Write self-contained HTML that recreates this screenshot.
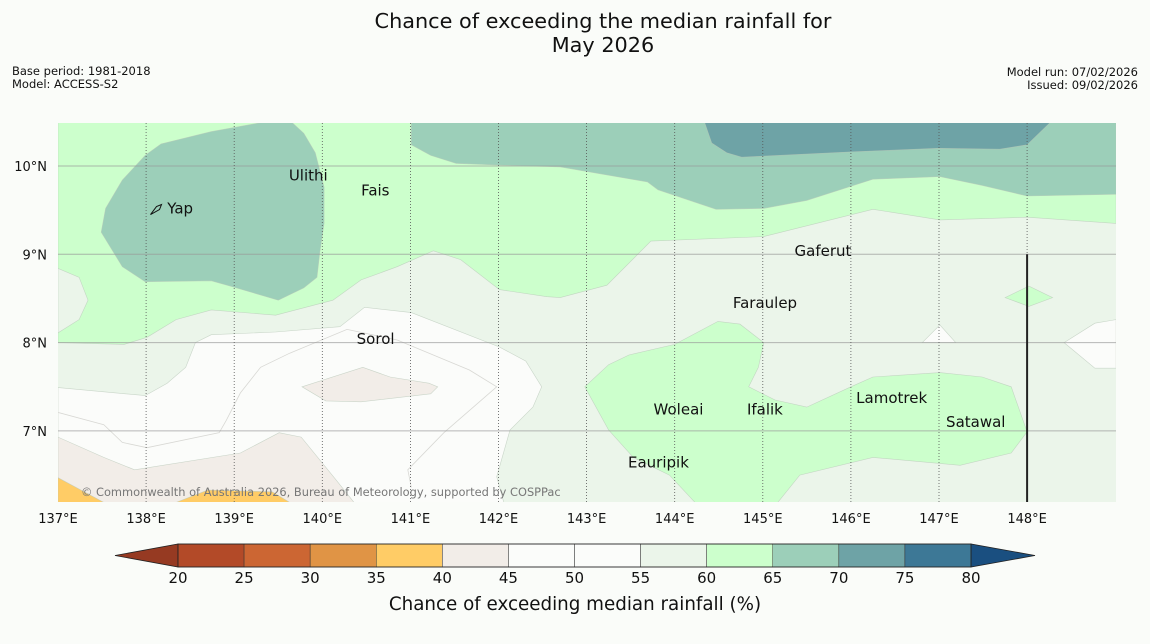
<!DOCTYPE html>
<html><head><meta charset="utf-8">
<style>
html,body{margin:0;padding:0;background:#fafcf9;}
svg{display:block;font-family:"DejaVu Sans","Liberation Sans",sans-serif;}
</style></head>
<body>
<svg id="chart" width="1150" height="644" viewBox="0 0 1150 644">
<rect width="1150" height="644" fill="#fafcf9"/>
<text x="603" y="28" font-size="20.8" text-anchor="middle" fill="#111">Chance of exceeding the median rainfall for</text>
<text x="603" y="52" font-size="20.8" text-anchor="middle" fill="#111">May 2026</text>
<text x="12" y="75" font-size="11.5" fill="#111">Base period: 1981-2018</text>
<text x="12" y="88" font-size="11.5" fill="#111">Model: ACCESS-S2</text>
<text x="1138" y="76" font-size="11.5" text-anchor="end" fill="#111">Model run: 07/02/2026</text>
<text x="1138" y="89" font-size="11.5" text-anchor="end" fill="#111">Issued: 09/02/2026</text>
<defs><clipPath id="mapclip"><rect x="58" y="123" width="1058" height="379"/></clipPath></defs>
<g id="map" clip-path="url(#mapclip)"></g>
<g id="axes"></g>
<g id="cbar"></g>
</svg>
<script>
const lonTicks=[137,138,139,140,141,142,143,144,145,146,147,148];
const latTicks=[7,8,9,10];
const cbLevels=[20,25,30,35,40,45,50,55,60,65,70,75,80];
const cbColors=["#b34a28","#cc6633","#e09445","#ffcc66","#f2ede8","#fbfcfa","#fbfcfa","#ebf5ea","#ccffcc","#9ccfb9","#6ea3a6","#3d7896"];
const lowColor="#963a22", highColor="#1a4f80";

const poly60=[[137,10.49],[149.01,10.49],[149.01,9.35],[148,9.42],[147.01,9.39],[146.25,9.51],[145.01,9.2],[143.73,9.15],[143.23,8.65],[142.7,8.51],[142.55,8.52],[142.01,8.6],[141.57,8.94],[141.26,9.04],[140.85,8.86],[140.44,8.71],[140.12,8.48],[139.47,8.31],[138.74,8.37],[138.34,8.26],[138.01,8.06],[137.75,7.98],[137,8]];
const polyLeftPale=[[137,8.84],[137.24,8.74],[137.34,8.48],[137.24,8.26],[137,8.11]];
const polyDiamond=[[147.75,8.51],[148.02,8.64],[148.29,8.51],[148.02,8.41]];
const polySouthGreen=[[142.98,7.5],[143.25,7.75],[143.48,7.86],[144,7.98],[144.49,8.24],[144.74,8.21],[145.01,8],[144.95,7.72],[144.84,7.5],[145.14,7.35],[145.5,7.27],[146,7.5],[146.25,7.61],[147.01,7.66],[147.49,7.61],[147.82,7.5],[148,6.99],[147.82,6.75],[147.24,6.61],[146.25,6.7],[145.42,6.5],[145.17,6.19],[144.23,6.19],[143.94,6.5],[143.53,6.7],[143.25,7.01]];
const polyYap=[[138.17,10.25],[138.74,10.39],[139.3,10.49],[139.66,10.49],[139.79,10.37],[139.92,10.15],[140.02,9.76],[140.02,9.35],[139.97,9.01],[139.94,8.74],[139.79,8.62],[139.5,8.48],[138.99,8.63],[138.74,8.7],[137.99,8.69],[137.73,8.86],[137.49,9.25],[137.54,9.52],[137.73,9.84],[137.99,10.12]];
const polyTopTeal=[[141.01,10.49],[141.01,10.24],[141.23,10.12],[141.52,10.03],[142.01,10.01],[142.7,9.99],[143.69,9.82],[143.81,9.73],[144.47,9.51],[145.01,9.52],[145.5,9.61],[146.25,9.85],[147.01,9.88],[147.49,9.78],[148,9.66],[149.01,9.68],[149.01,10.49]];
const polyGap=[[145.17,10.49],[145.5,10.4],[145.8,10.49]];
const polyDark=[[144.34,10.49],[144.42,10.26],[144.59,10.15],[144.76,10.1],[146,10.16],[146.99,10.2],[147.69,10.19],[148,10.24],[148.26,10.49]];
const polyWhite=[[137,7.49],[137.99,7.4],[138.24,7.54],[138.45,7.72],[138.56,8],[138.74,8.09],[139.47,8.12],[140.2,8.18],[140.48,8.4],[141.01,8.34],[142.01,7.95],[142.31,7.79],[142.49,7.5],[142.39,7.27],[142.13,7.01],[141.98,6.48],[142.06,6.19],[137,6.19]];
const line50=[[137,7.21],[137.52,7.07],[137.73,6.87],[138.01,6.81],[138.83,6.98],[138.91,7.12],[139.07,7.43],[139.3,7.72],[139.63,7.88],[140.28,8.15],[140.85,8.03],[141.67,7.69],[141.98,7.5],[141.38,6.98],[140.97,6.56],[141.01,6.36]];
const polyBeigeSW=[[137,6.93],[137.52,6.7],[137.87,6.56],[139.07,6.75],[139.51,6.98],[139.76,6.93],[140.16,6.44],[140.36,6.19],[137,6.19]];
const polyBeigeC=[[139.77,7.5],[140.46,7.72],[140.77,7.61],[141.21,7.54],[141.31,7.5],[141.23,7.42],[140.44,7.33],[140.04,7.34]];
const polyOrange1=[[137,6.47],[137.52,6.19],[137,6.19]];
const polyOrange2=[[138.34,6.19],[138.7,6.33],[139.43,6.31],[139.63,6.19]];
const polyWhiteTri=[[146.81,8],[147.01,8.2],[147.19,8]];
const polyWhiteE=[[149.01,8.26],[148.77,8.22],[148.42,8],[148.77,7.71],[149.01,7.71]];

const placeNames=["Yap","Ulithi","Fais","Gaferut","Faraulep","Sorol","Woleai","Ifalik","Lamotrek","Satawal","Eauripik"];
const placeLon=[138.24,139.62,140.44,145.36,144.66,140.39,143.76,144.82,146.06,147.08,143.47];
const placeLat=[9.52,9.89,9.72,9.04,8.45,8.04,7.24,7.24,7.37,7.10,6.64];

const X=lon=>58+(lon-137)*88.1;
const Y=lat=>166+(10-lat)*88.3;
const NS="http://www.w3.org/2000/svg";
const map=document.getElementById('map'),axes=document.getElementById('axes'),cbar=document.getElementById('cbar');
function mk(tag,parent,attrs){const e=document.createElementNS(NS,tag);for(const k in attrs)e.setAttribute(k,attrs[k]);parent.appendChild(e);return e;}
const pts=a=>a.map(p=>X(p[0]).toFixed(1)+','+Y(p[1]).toFixed(1)).join(' ');

let bg=mk('rect',map,{x:58,y:123,width:1058,height:379,fill:cbColors[7]});


const layers=[
 [poly60,cbColors[8],'region-60-65'],[polyLeftPale,cbColors[7],'region-55-60-west'],[polyDiamond,cbColors[8],'region-60-65-diamond'],
 [polySouthGreen,cbColors[8],'region-60-65-south'],[polyYap,cbColors[9],'region-65-70-yap'],[polyTopTeal,cbColors[9],'region-65-70-north'],
 [polyGap,cbColors[8],'region-60-65-gap'],[polyDark,cbColors[10],'region-70-75'],[polyWhite,cbColors[5],'region-45-55'],
 [polyBeigeSW,cbColors[4],'region-40-45-sw'],[polyBeigeC,cbColors[4],'region-40-45-centre'],[polyOrange1,cbColors[3],'region-35-40-a'],
 [polyOrange2,cbColors[3],'region-35-40-b'],[polyWhiteTri,cbColors[5],'region-45-55-tri'],[polyWhiteE,cbColors[5],'region-45-55-east']];
layers.forEach(l=>{
 const e=mk('polygon',map,{points:pts(l[0]),fill:l[1],stroke:'#b8c8b8','stroke-width':0.6,'stroke-opacity':0.7});
 
 
});
let l50=mk('polyline',map,{points:pts(line50),fill:'none',stroke:'#d8d8d4','stroke-width':0.8});



latTicks.forEach(t=>{
 const g=mk('line',map,{x1:58,x2:1116,y1:Y(t),y2:Y(t),stroke:'#999','stroke-width':1,'stroke-opacity':0.7});
 
 
 const tx=mk('text',axes,{x:47,y:Y(t)+5,'font-size':13,'text-anchor':'end',fill:'#111'});
 tx.textContent=t+'°N';
 
 
});
lonTicks.forEach(t=>{
 if(t>137){const g=mk('line',map,{x1:X(t),x2:X(t),y1:123,y2:502,stroke:'#555','stroke-width':0.8,'stroke-dasharray':'1,2'});
 
 }
 const tx=mk('text',axes,{x:X(t),y:523,'font-size':13,'text-anchor':'middle',fill:'#111'});
 tx.textContent=t+'°E';
 
 
});
let bl=mk('line',map,{x1:X(148),x2:X(148),y1:Y(9),y2:502,stroke:'#222','stroke-width':2});


let yap=mk('path',map,{d:`M${X(138.05)},${Y(9.45)} l6,-8 l5,-2 l-2,5 z`,fill:'none',stroke:'#111','stroke-width':1});


placeNames.forEach((n,i)=>{
 const tx=mk('text',map,{x:X(placeLon[i]),y:Y(placeLat[i])+5,'font-size':15,fill:'#111'});
 tx.textContent=n;
 
 
});
let cp=mk('text',map,{x:81,y:496,'font-size':11.4,fill:'#777'});
cp.textContent='© Commonwealth of Australia 2026, Bureau of Meteorology, supported by COSPPac';



const cbX=v=>178+(v-20)*(793/60);
const cy0=544,cy1=567;
let lo=mk('polygon',cbar,{points:`115,${(cy0+cy1)/2} ${cbX(20)},${cy0} ${cbX(20)},${cy1}`,fill:lowColor,stroke:'#222','stroke-width':0.8});


let hi=mk('polygon',cbar,{points:`1035,${(cy0+cy1)/2} ${cbX(80)},${cy0} ${cbX(80)},${cy1}`,fill:highColor,stroke:'#222','stroke-width':0.8});


cbColors.forEach((c,i)=>{
 const r=mk('rect',cbar,{x:cbX(cbLevels[i]),y:cy0,width:cbX(cbLevels[i+1])-cbX(cbLevels[i]),height:cy1-cy0,fill:c,stroke:'#333','stroke-width':0.5});
 
 
});
let fr=mk('rect',cbar,{x:cbX(20),y:cy0,width:cbX(80)-cbX(20),height:cy1-cy0,fill:'none',stroke:'#222','stroke-width':0.8});


cbLevels.forEach(v=>{
 const tx=mk('text',cbar,{x:cbX(v),y:583,'font-size':15,'text-anchor':'middle',fill:'#111'});
 tx.textContent=v;
 
 
});
let ct=mk('text',cbar,{x:575,y:610,'font-size':18.3,'text-anchor':'middle',fill:'#111'});
ct.textContent='Chance of exceeding median rainfall (%)';


</script>
</body></html>
